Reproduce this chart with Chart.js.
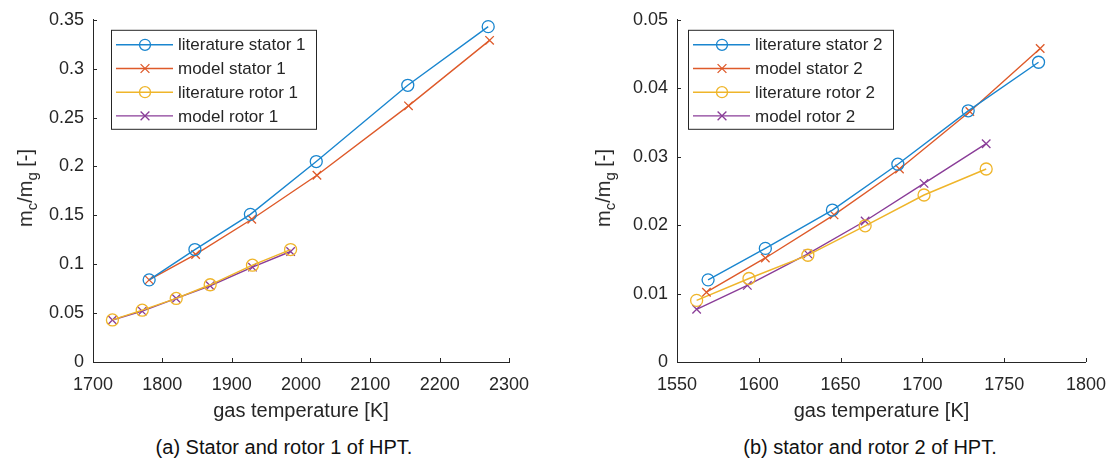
<!DOCTYPE html>
<html>
<head>
<meta charset="utf-8">
<script src="https://cdn.jsdelivr.net/npm/chart.js@4/dist/chart.umd.min.js"></script>
<style>
  body { margin: 0; background: #fff; font-family: "Liberation Sans", Arial, sans-serif; color: #262626; }
  #wrap { position: relative; width: 1118px; height: 465px; }
  .panel { position: absolute; top: 0; width: 559px; height: 430px; }
  .ylab { position: absolute; font-size: 20px; white-space: nowrap; transform: translate(-50%, -50%) rotate(-90deg); }
  .ylab sub { font-size: 15px; }
  .cap { position: absolute; top: 447px; font-size: 20px; white-space: nowrap; transform: translate(-50%, -50%); color: #111; }
</style>
</head>
<body>
<div id="wrap">
  <div class="panel" style="left:0"><canvas id="hpt1" width="559" height="430"></canvas></div>
  <div class="panel" style="left:559px"><canvas id="hpt2" width="559" height="430"></canvas></div>
  <div class="ylab" style="left:27px; top:188px">m<sub>c</sub>/m<sub>g</sub> [-]</div>
  <div class="ylab" style="left:605px; top:188px">m<sub>c</sub>/m<sub>g</sub> [-]</div>
  <div class="cap" style="left:284px">(a) Stator and rotor 1 of HPT.</div>
  <div class="cap" style="left:870px">(b) stator and rotor 2 of HPT.</div>
</div>
<script>
// stage 1
const litStator1T = [1781, 1847, 1927, 2022, 2154, 2270];
const litStator1 = [0.084, 0.115, 0.151, 0.205, 0.283, 0.343];
const modStator1T = [1781, 1848, 1929, 2023, 2155, 2272];
const modStator1 = [0.084, 0.110, 0.146, 0.191, 0.262, 0.329];
const litRotor1T = [1728, 1771, 1820, 1869, 1930, 1985];
const litRotor1 = [0.043, 0.053, 0.065, 0.079, 0.099, 0.115];
const modRotor1T = [1728, 1771, 1820, 1869, 1930, 1985];
const modRotor1 = [0.043, 0.052, 0.065, 0.078, 0.097, 0.113];

// stage 2
const litStator2T = [1569, 1604, 1645, 1685, 1728, 1771];
const litStator2 = [0.0120, 0.0166, 0.0222, 0.0289, 0.0367, 0.0438];
const modStator2T = [1568, 1604, 1646, 1686, 1729, 1772];
const modStator2 = [0.0102, 0.0152, 0.0215, 0.0282, 0.0366, 0.0458];
const litRotor2T = [1562, 1594, 1630, 1665, 1701, 1739];
const litRotor2 = [0.0090, 0.0122, 0.0156, 0.0199, 0.0244, 0.0282];
const modRotor2T = [1562, 1593, 1630, 1665, 1701, 1739];
const modRotor2 = [0.0077, 0.0112, 0.0158, 0.0206, 0.0261, 0.0319];

const xTicks1 = [1700, 1800, 1900, 2000, 2100, 2200, 2300];
const yTicks1 = [0, 0.05, 0.1, 0.15, 0.2, 0.25, 0.3, 0.35];
const xTicks2 = [1550, 1600, 1650, 1700, 1750, 1800];
const yTicks2 = [0, 0.01, 0.02, 0.03, 0.04, 0.05];

const BLUE = "#1a86cf", ORANGE = "#de5a2a", YELLOW = "#efb52a", PURPLE = "#8a3d98";
const INK = "#262626";
const FONT = "'Liberation Sans', Arial, sans-serif";

function pts(xs, ys) {
  return xs.map((x, i) => ({ x: x, y: ys[i] }));
}

function series(label, xs, ys, color, marker) {
  return {
    label: label,
    data: pts(xs, ys),
    borderColor: color,
    backgroundColor: "rgba(0,0,0,0)",
    borderWidth: 1.4,
    pointStyle: marker,
    pointRadius: 6,
    pointBorderWidth: 1.3,
    pointBorderColor: color,
    tension: 0,
  };
}

// ticks pointing inward, like matlab
const inwardTicks = {
  id: "inwardTicks",
  afterDraw(chart) {
    const ctx = chart.ctx;
    const x = chart.scales.x, y = chart.scales.y;
    ctx.save();
    ctx.strokeStyle = INK;
    ctx.lineWidth = 1;
    x.ticks.forEach(t => {
      const px = Math.round(x.getPixelForValue(t.value)) + 0.5;
      ctx.beginPath();
      ctx.moveTo(px, y.bottom);
      ctx.lineTo(px, y.bottom - 4);
      ctx.stroke();
    });
    y.ticks.forEach(t => {
      const py = Math.round(y.getPixelForValue(t.value)) + 0.5;
      ctx.beginPath();
      ctx.moveTo(x.left, py);
      ctx.lineTo(x.left + 4, py);
      ctx.stroke();
    });
    ctx.restore();
  }
};

function drawMarker(ctx, style, cx, cy, r) {
  ctx.beginPath();
  if (style === "circle") {
    ctx.arc(cx, cy, r, 0, Math.PI * 2);
  } else {
    const d = r * 0.8;
    ctx.moveTo(cx - d, cy - d); ctx.lineTo(cx + d, cy + d);
    ctx.moveTo(cx + d, cy - d); ctx.lineTo(cx - d, cy + d);
  }
  ctx.stroke();
}

// boxed legend in the upper left of the axes
const boxLegend = {
  id: "boxLegend",
  afterDraw(chart, args, opts) {
    const ctx = chart.ctx;
    const a = chart.chartArea;
    const bx = a.left + opts.dx, by = a.top + 10;
    const bw = 205, bh = 99;
    ctx.save();
    ctx.fillStyle = "#fff";
    ctx.fillRect(bx, by, bw, bh);
    ctx.strokeStyle = INK;
    ctx.lineWidth = 1;
    ctx.strokeRect(bx + 0.5, by + 0.5, bw, bh);
    ctx.font = "17px " + FONT;
    ctx.textBaseline = "middle";
    chart.data.datasets.forEach((ds, i) => {
      const ly = by + 15 + i * 23.7;
      ctx.strokeStyle = ds.borderColor;
      ctx.lineWidth = 1.4;
      ctx.beginPath();
      ctx.moveTo(bx + 5, ly);
      ctx.lineTo(bx + 62, ly);
      ctx.stroke();
      ctx.lineWidth = 1.3;
      drawMarker(ctx, ds.pointStyle, bx + 34, ly, 5.5);
      ctx.fillStyle = INK;
      ctx.fillText(ds.label, bx + 67, ly + 1);
    });
    ctx.restore();
  }
};

function fmt(v) {
  return String(parseFloat(v.toFixed(3)));
}

function makeChart(id, datasets, xTicks, yTicks, padLeft, padRight, legendDx) {
  return new Chart(document.getElementById(id), {
    type: "line",
    data: { datasets: datasets },
    options: {
      responsive: false,
      animation: false,
      devicePixelRatio: 1,
      layout: { padding: { left: padLeft, right: padRight, top: 13, bottom: 0 } },
      plugins: {
        legend: { display: false },
        tooltip: { enabled: false },
        boxLegend: { dx: legendDx },
      },
      scales: {
        x: {
          type: "linear",
          min: xTicks[0],
          max: xTicks[xTicks.length - 1],
          afterBuildTicks: s => { s.ticks = xTicks.map(v => ({ value: v })); },
          afterFit: s => { s.height = 68; },
          grid: { display: false, drawTicks: false },
          border: { display: true, color: INK, width: 1 },
          ticks: { color: INK, padding: 12, maxRotation: 0, font: { family: FONT, size: 18 }, callback: v => String(v) },
          title: { display: true, text: "gas temperature [K]", color: INK, font: { family: FONT, size: 20 }, padding: { top: 0, bottom: 7 } },
        },
        y: {
          type: "linear",
          min: yTicks[0],
          max: yTicks[yTicks.length - 1],
          afterBuildTicks: s => { s.ticks = yTicks.map(v => ({ value: v })); },
          afterFit: s => { s.width = 93; },
          grid: { display: false, drawTicks: false },
          border: { display: true, color: INK, width: 1 },
          ticks: { color: INK, padding: 9, font: { family: FONT, size: 18 }, callback: v => fmt(v) },
        },
      },
    },
    plugins: [inwardTicks, boxLegend],
  });
}

makeChart("hpt1", [
  series("literature stator 1", litStator1T, litStator1, BLUE, "circle"),
  series("model stator 1", modStator1T, modStator1, ORANGE, "crossRot"),
  series("literature rotor 1", litRotor1T, litRotor1, YELLOW, "circle"),
  series("model rotor 1", modRotor1T, modRotor1, PURPLE, "crossRot"),
], xTicks1, yTicks1, 0, 50, 18);

makeChart("hpt2", [
  series("literature stator 2", litStator2T, litStator2, BLUE, "circle"),
  series("model stator 2", modStator2T, modStator2, ORANGE, "crossRot"),
  series("literature rotor 2", litRotor2T, litRotor2, YELLOW, "circle"),
  series("model rotor 2", modRotor2T, modRotor2, PURPLE, "crossRot"),
], xTicks2, yTicks2, 25, 26, 11);
</script>
</body>
</html>
